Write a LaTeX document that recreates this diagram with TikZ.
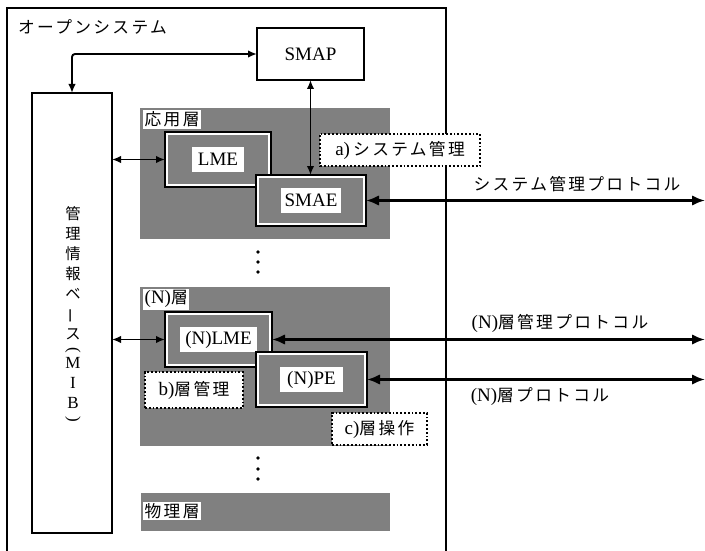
\documentclass[tikz,border=0pt]{standalone}
\usepackage{fontspec}
\setmainfont{Liberation Serif}
\newfontfamily\jp{Noto Sans CJK JP}[Scale=0.88,LetterSpace=14]
\newfontfamily\jpv{Noto Sans CJK JP}[Scale=0.9]
\newcommand\jtext[1]{{\jp #1}}
\usetikzlibrary{arrows.meta,fit}
\definecolor{shadegray}{gray}{0.5}
\begin{document}
\begin{tikzpicture}[x=1pt,y=-1pt,
  every node/.style={font=\fontsize{19}{22}\selectfont},
  plain/.style={inner sep=0, outer sep=0},
  box/.style={plain, draw, line width=2pt},
  region/.style={plain, fill=shadegray},
  frame/.style={plain, draw, line width=2.6pt, fill=white},
  core/.style={plain, fill=shadegray},
  lbl/.style={fill=white, inner xsep=6pt, inner ysep=0pt, minimum height=25pt},
  tag/.style={fill=white, inner xsep=1.5pt, inner ysep=1.5pt},
  dotbox/.style={plain, draw, dotted, line width=1.8pt, fill=white},
  txt/.style={inner sep=0},
  conn/.style={line width=1.9pt},
  heavy/.style={line width=2.4pt},
  tipS/.tip={Latex[length=9pt,width=7.5pt]},
  tipL/.tip={Latex[length=13pt,width=10.5pt]},
  bigdot/.style={circle, fill, inner sep=0, minimum size=3.6pt}
]
\useasboundingbox (0,0) rectangle (705,551);

% outer open system
\node[box, fit={(7,8) (446,575)}] (outer) {};
\node[txt, anchor=west] (title) at (18,27) {\jtext{オープンシステム}};

% SMAP
\node[box, fit={(257,28) (364,80)}] (smap) {};
\node[txt] (smapt) at (smap.center) {SMAP};

% MIB
\node[box, fit={(32,93) (112,533)}] (mib) {};
\node[txt, align=center, font=\fontsize{17}{20}\selectfont\jpv] (mibt) at (73,315)
  {管\\理\\情\\報\\ベ\\\rotatebox[origin=c]{90}{ー}\\ス\\[-5pt]
   {\rmfamily\rotatebox[origin=c]{-90}{(}}\\[-6pt]{\rmfamily M}\\{\rmfamily I}\\{\rmfamily B}\\[-5pt]
   {\rmfamily\rotatebox[origin=c]{-90}{)}}};

% application layer
\node[region, fit={(140,108) (390,239)}] (app) {};
\node[tag, anchor=north west] (appt) at (143,110) {\jtext{応用層}};
\node[frame, fit={(165,132) (271,187)}] (lme) {};
\node[core, fit={([shift={(3.4,3.4)}]lme.north west) ([shift={(-3.4,-3.4)}]lme.south east)}] (lmec) {};
\node[lbl] (lmet) at (lme.center) {LME};
\node[frame, fit={(256,175) (366,226)}] (smae) {};
\node[core, fit={([shift={(3.4,3.4)}]smae.north west) ([shift={(-3.4,-3.4)}]smae.south east)}] (smaec) {};
\node[lbl, inner xsep=4pt] (smaet) at (smae.center) {SMAE};
\node[dotbox, fit={(320,134) (480,166)}] (abox) {};
\node[txt] (at) at (abox.center) {a)\,\jtext{システム管理}};

% dots
\node[bigdot] (d1) at (258,252) {};
\node[bigdot] (d2) at (258,262) {};
\node[bigdot] (d3) at (258,272) {};

% (N) layer
\node[region, fit={(140,287) (390,446)}] (nl) {};
\node[tag, anchor=north west] (nlt) at (143,289) {(N)\jtext{層}};
\node[frame, fit={(165,312) (272,367)}] (nlme) {};
\node[core, fit={([shift={(3.4,3.4)}]nlme.north west) ([shift={(-3.4,-3.4)}]nlme.south east)}] (nlmec) {};
\node[lbl, inner xsep=5pt] (nlmet) at (nlme.center) {(N)LME};
\node[frame, fit={(256,352) (367,407)}] (npe) {};
\node[core, fit={([shift={(3.4,3.4)}]npe.north west) ([shift={(-3.4,-3.4)}]npe.south east)}] (npec) {};
\node[lbl, inner xsep=7pt] (npet) at (npe.center) {(N)PE};
\node[dotbox, fit={(145,372) (243,408)}] (bbox) {};
\node[txt] (bt) at (bbox.center) {b)\jtext{層管理}};
\node[dotbox, fit={(332,413) (427,445)}] (cbox) {};
\node[txt] (ct) at (cbox.center) {c)\jtext{層操作}};

% dots
\node[bigdot] (d4) at (258,458) {};
\node[bigdot] (d5) at (258,469) {};
\node[bigdot] (d6) at (258,479) {};

% physical layer
\node[region, fit={(141,493) (390,531)}] (phy) {};
\node[tag, anchor=west] (phyt) at (143,511) {\jtext{物理層}};

% right ends
\coordinate (r1) at (705,200.5);
\coordinate (r2) at (705,339.5);
\coordinate (r3) at (705,379.5);

% connectors
\draw[conn, tipS-tipS, rounded corners=3pt] (smap.west) -| (mib.north);
\draw[conn, tipS-tipS] (smap.south) -- (smap.south |- smae.north);
\draw[conn, tipS-tipS] (mib.east |- lme.west) -- (lme.west);
\draw[conn, tipS-tipS] (mib.east |- nlme.west) -- (nlme.west);
\draw[heavy, tipL-tipL] (smae.east) -- (r1);
\draw[heavy, tipL-tipL] (nlme.east) -- (r2);
\draw[heavy, tipL-tipL] (npe.east) -- (r3);

% protocol labels
\node[txt] (p1) at (577,184) {\jtext{システム管理プロトコル}};
\node[txt] (p2) at (560,323) {(N)\jtext{層管理プロトコル}};
\node[txt] (p3) at (540,397) {(N)\jtext{層プロトコル}};
\end{tikzpicture}
\end{document}
